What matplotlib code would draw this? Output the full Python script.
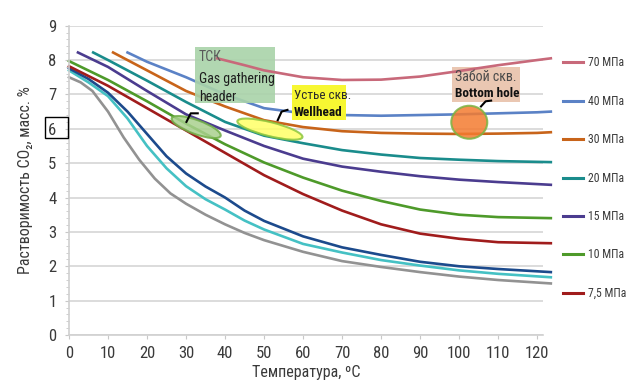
import matplotlib.pyplot as plt
import matplotlib.transforms as mtransforms
from matplotlib.patches import Ellipse, Rectangle

plt.rcParams['font.family'] = ['Roboto Condensed', 'DejaVu Sans']
plt.rcParams['font.stretch'] = 'condensed'

# solubility curves, temperature (C) -> CO2 solubility (mass %)
t70 = [38, 45, 50, 55, 60, 70, 80, 90, 100, 110, 120, 123.5]
s70 = [8.05, 7.85, 7.7, 7.6, 7.5, 7.42, 7.43, 7.52, 7.68, 7.85, 8.0, 8.05]
t40 = [15, 20, 30, 40, 50, 60, 70, 80, 90, 100, 110, 120, 123.5]
s40 = [8.22, 7.95, 7.5, 7.0, 6.6, 6.45, 6.4, 6.38, 6.4, 6.42, 6.45, 6.48, 6.5]
t30 = [11.3, 20, 30, 40, 50, 60, 70, 80, 90, 100, 110, 120, 123.5]
s30 = [8.22, 7.7, 7.1, 6.65, 6.25, 6.05, 5.93, 5.88, 5.86, 5.85, 5.86, 5.88, 5.9]
t20 = [6.2, 10, 20, 30, 40, 50, 60, 70, 80, 90, 100, 110, 123.5]
s20 = [8.22, 8.0, 7.4, 6.78, 6.2, 5.8, 5.58, 5.38, 5.25, 5.15, 5.1, 5.06, 5.03]
t15 = [2.3, 10, 20, 30, 40, 50, 60, 70, 80, 90, 100, 110, 123.5]
s15 = [8.22, 7.8, 7.1, 6.42, 5.95, 5.5, 5.13, 4.9, 4.75, 4.62, 4.52, 4.45, 4.37]
t10 = [0, 10, 20, 30, 40, 50, 60, 70, 80, 90, 100, 110, 123.5]
s10 = [7.97, 7.42, 6.8, 6.15, 5.55, 5.02, 4.58, 4.2, 3.9, 3.65, 3.5, 3.43, 3.4]
t75 = [0, 10, 20, 30, 40, 50, 60, 70, 80, 90, 100, 110, 123.5]
s75 = [7.82, 7.25, 6.6, 5.95, 5.3, 4.65, 4.1, 3.62, 3.22, 2.95, 2.8, 2.7, 2.67]
# three lower curves without legend entries
t_navy = [0, 5, 10, 15, 20, 25, 30, 35, 40, 45, 50, 60, 70, 80, 90, 100, 110, 123.5]
s_navy = [7.76, 7.45, 7.05, 6.5, 5.85, 5.2, 4.7, 4.32, 4.0, 3.62, 3.32, 2.87, 2.55, 2.33, 2.13, 2.0, 1.92, 1.83]
t_cyan = [0, 5, 10, 15, 20, 25, 30, 35, 40, 45, 50, 60, 70, 80, 90, 100, 110, 123.5]
s_cyan = [7.7, 7.35, 6.95, 6.3, 5.5, 4.85, 4.33, 3.95, 3.65, 3.33, 3.07, 2.65, 2.4, 2.18, 2.02, 1.88, 1.78, 1.68]
t_gray = [0, 3, 6, 10, 14, 18, 22, 26, 30, 35, 40, 45, 50, 60, 70, 80, 90, 100, 110, 123.5]
s_gray = [7.5, 7.35, 7.1, 6.5, 5.75, 5.1, 4.55, 4.12, 3.82, 3.5, 3.22, 2.97, 2.76, 2.42, 2.15, 1.98, 1.83, 1.7, 1.6, 1.5]

labels = ['70 МПа', '40 МПа', '30 МПа', '20 МПа', '15 МПа', '10 МПа', '7,5 МПа']
colors = ['#c8697a', '#5b82c6', '#c8641a', '#1a8c8c', '#4b3c8f', '#4e9a2a', '#a01c1c']
xticks = list(range(0, 121, 10))
yticks = list(range(0, 10))

fig = plt.figure(figsize=(6.29, 3.88), dpi=100)
ax = fig.add_axes([0.1097, 0.1366, 0.7536, 0.7972])

lw = 1.9
ax.plot(t_gray, s_gray, color='#929292', lw=lw, clip_on=False, zorder=2)
ax.plot(t_cyan, s_cyan, color='#45c1c4', lw=lw, clip_on=False, zorder=2)
ax.plot(t_navy, s_navy, color='#1c4a8c', lw=lw, clip_on=False, zorder=2)

series = [(t70, s70), (t40, s40), (t30, s30), (t20, s20), (t15, s15), (t10, s10), (t75, s75)]
handles = []
for (t, s), c, lab in zip(series[::-1], colors[::-1], labels[::-1]):
    z = 4 if lab == '70 МПа' else 2
    h, = ax.plot(t, s, color=c, lw=lw, label=lab, clip_on=False, zorder=z)
    handles.append(h)
handles = handles[::-1]

ax.set_xlim(0, 121.5)
ax.set_ylim(0, 9)
ax.set_xticks(xticks)
ax.set_yticks(yticks)
ax.set_yticks([i * 0.2 for i in range(46)], minor=True)
ax.grid(axis='y', color='#d9d9d9', lw=1.3, zorder=0)
for side in ['top', 'right']:
    ax.spines[side].set_visible(False)
for side in ['left', 'bottom']:
    ax.spines[side].set_color('#d0d0d0')
    ax.spines[side].set_linewidth(1.2)
ax.tick_params(axis='both', which='major', length=3, color='#c8c8c8',
               labelsize=12, labelcolor='#3a3a3a')
ax.tick_params(axis='y', which='minor', length=2, color='#c8c8c8')
ax.tick_params(axis='x', pad=5)
ax.tick_params(axis='y', pad=6)

ax.set_xlabel('Температура, ºС', fontsize=11.5, color='#3a3a3a', labelpad=3)
ax.set_ylabel('Растворимость CO₂, масс. %', fontsize=11.5, color='#3a3a3a', labelpad=11)

# box around the "6" tick label
fig.add_artist(Rectangle((45 / 629, 1 - 138 / 388), 23 / 629, 21 / 388,
                         transform=fig.transFigure, fill=False, ec='black', lw=1))

# annotation boxes
ax.add_patch(Rectangle((32.3, 6.74), 20.5, 1.63, fc='#a9d3a9', ec='none', alpha=0.9, zorder=3))
ax.text(33.3, 8.08, 'ТСК', fontsize=10, color='#5a5a5a', va='center', zorder=5)
ax.text(33.3, 7.44, 'Gas gathering', fontsize=10, color='#1e1e1e', va='center', zorder=5)
ax.text(33.3, 6.93, 'header', fontsize=10, color='#1e1e1e', va='center', zorder=5)

ax.add_patch(Rectangle((57.2, 6.27), 13.8, 1.0, fc='#f7f732', ec='none', zorder=3))
ax.text(57.7, 6.98, 'Устье скв.', fontsize=9.5, color='#2a2a2a', va='center', zorder=5)
ax.text(57.7, 6.48, 'Wellhead', fontsize=9.5, color='#111111', va='center',
        fontweight='bold', zorder=5)

ax.add_patch(Rectangle((98.2, 6.77), 17.4, 1.02, fc='#eac7b2', ec='none', zorder=3))
ax.text(98.9, 7.5, 'Забой скв.', fontsize=10, color='#4a4a4a', va='center', zorder=5)
ax.text(98.9, 7.02, 'Bottom hole', fontsize=9.5, color='#111111', va='center',
        fontweight='bold', zorder=5)


def marker_ellipse(x, y, w, h, ang, fc, ec):
    tr = fig.dpi_scale_trans + mtransforms.ScaledTranslation(x, y, ax.transData)
    e = Ellipse((0, 0), w / 100, h / 100, angle=ang, transform=tr,
                fc=fc, ec=ec, lw=1.5, alpha=0.85, zorder=6)
    ax.add_patch(e)


marker_ellipse(32.6, 6.05, 52, 14, -20, '#a9d18e', '#70ad47')
marker_ellipse(51.5, 5.99, 67, 14, -14, '#ffff66', '#8cc63f')
marker_ellipse(102.6, 6.19, 36, 33, 0, '#f47b30', '#7cb342')

# leader hooks
ax.plot([33.0, 31.2, 30.1], [6.45, 6.45, 6.2], color='black', lw=1.5, zorder=7)
ax.plot([56.0, 54.5, 53.5], [6.55, 6.5, 6.25], color='black', lw=1.5, zorder=7)
ax.plot([105.6, 106.8, 108.2], [6.65, 6.8, 6.82], color='black', lw=1.5, zorder=7)

leg = fig.legend(handles, labels, loc='upper left', bbox_to_anchor=(563 / 629, 1 - 56.5 / 388),
                 frameon=False, fontsize=8.5, labelspacing=2.15, handlelength=1.7,
                 handletextpad=0.45, borderpad=0, borderaxespad=0)
for txt in leg.get_texts():
    txt.set_color('#3a3a3a')
for ln in leg.get_lines():
    ln.set_linewidth(2.2)

fig.savefig('out.png', dpi=100)
